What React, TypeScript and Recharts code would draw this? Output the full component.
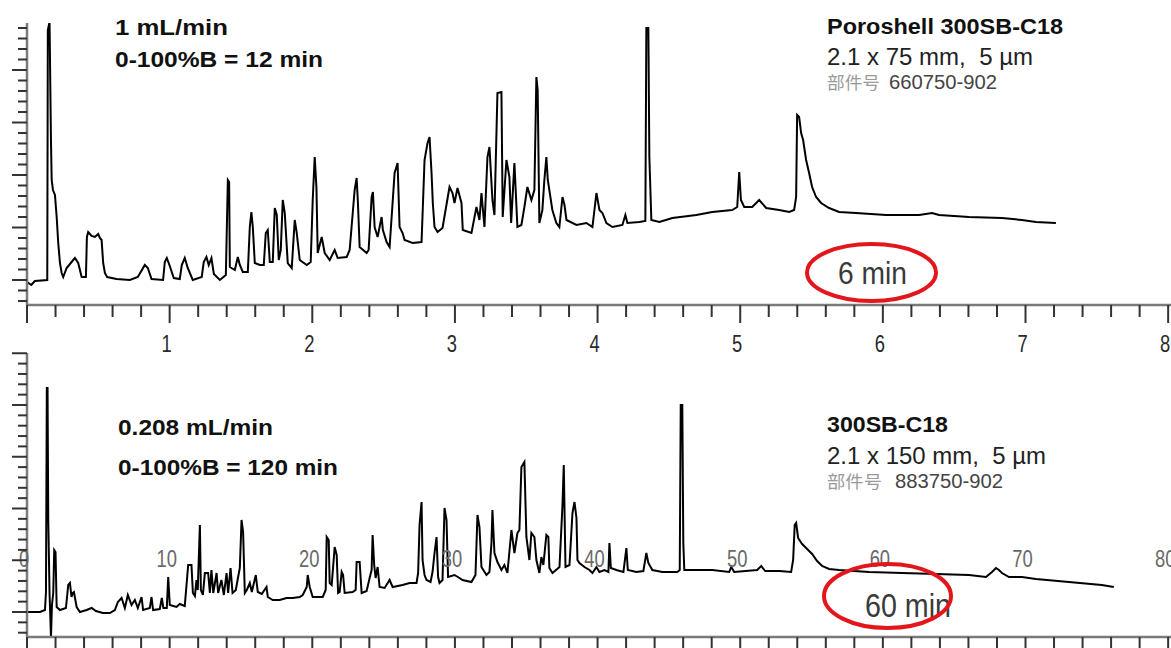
import React from 'react';
import { LineChart, Line, XAxis, YAxis } from 'recharts';

// ---- Top chromatogram: Poroshell 300SB-C18 (time in min, signal in arbitrary units)
const topTrace: [number, number][] = [
  [0, -2], [0.03, -5], [0.055, -1], [0.142, 0], [0.146, 250], [0.158, 258], [0.168, 140], [0.173, 100],
  [0.182, 90], [0.196, 85], [0.208, 63], [0.219, 37], [0.231, 17], [0.243, 7], [0.254, 3], [0.278, 12],
  [0.324, 20], [0.336, 22], [0.359, 17], [0.383, 3], [0.413, 3], [0.42, 43], [0.429, 48], [0.453, 44],
  [0.476, 43], [0.499, 46], [0.511, 42], [0.523, 40], [0.534, 17], [0.546, 7], [0.562, 3], [0.628, 1],
  [0.721, 0], [0.777, 3], [0.826, 15], [0.847, 12], [0.873, 1], [0.954, 0], [0.966, 18], [0.98, 22],
  [1.001, 14], [1.029, 2], [1.071, 1], [1.085, 15], [1.106, 22], [1.127, 12], [1.162, 0], [1.225, 3],
  [1.239, 18], [1.258, 23], [1.274, 15], [1.293, 22], [1.31, 6], [1.352, 0], [1.394, 5], [1.408, 100],
  [1.417, 98], [1.422, 13], [1.457, 10], [1.478, 23], [1.492, 15], [1.513, 8], [1.548, 8], [1.562, 53],
  [1.573, 68], [1.583, 53], [1.597, 17], [1.632, 15], [1.66, 15], [1.674, 47], [1.688, 50], [1.702, 18],
  [1.723, 18], [1.737, 72], [1.751, 65], [1.765, 20], [1.779, 30], [1.793, 80], [1.807, 67], [1.828, 17],
  [1.856, 12], [1.877, 60], [1.891, 47], [1.912, 20], [1.961, 15], [1.989, 18], [2.003, 80], [2.017, 123],
  [2.029, 93], [2.038, 27], [2.066, 43], [2.087, 27], [2.122, 20], [2.157, 30], [2.178, 22], [2.241, 23],
  [2.262, 30], [2.297, 90], [2.311, 102], [2.32, 77], [2.332, 33], [2.381, 27], [2.395, 30], [2.416, 83],
  [2.425, 88], [2.437, 53], [2.458, 43], [2.486, 63], [2.495, 50], [2.521, 38], [2.542, 33], [2.563, 77],
  [2.577, 107], [2.598, 117], [2.612, 53], [2.633, 47], [2.647, 40], [2.703, 37], [2.766, 38], [2.787, 120],
  [2.808, 137], [2.822, 143], [2.836, 107], [2.845, 77], [2.857, 53], [2.878, 48], [2.913, 52], [2.962, 93],
  [2.983, 87], [2.997, 77], [3.018, 92], [3.046, 77], [3.055, 50], [3.116, 47], [3.151, 73], [3.172, 60],
  [3.186, 87], [3.207, 53], [3.228, 123], [3.242, 133], [3.263, 80], [3.277, 65], [3.298, 187], [3.326, 188],
  [3.335, 63], [3.361, 120], [3.382, 103], [3.394, 57], [3.417, 117], [3.438, 53], [3.466, 55], [3.487, 73],
  [3.508, 93], [3.536, 80], [3.557, 90], [3.571, 203], [3.58, 190], [3.592, 57], [3.613, 70], [3.627, 100],
  [3.641, 123], [3.651, 100], [3.683, 70], [3.711, 57], [3.732, 53], [3.754, 83], [3.768, 75], [3.782, 60],
  [3.852, 55], [3.922, 57], [3.964, 53], [3.992, 87], [4.013, 70], [4.034, 67], [4.062, 57], [4.104, 53],
  [4.174, 55], [4.195, 65], [4.209, 57], [4.293, 58], [4.335, 59], [4.342, 252], [4.356, 252], [4.363, 123],
  [4.377, 60], [4.433, 58], [4.524, 62], [4.692, 65], [4.804, 68], [4.944, 70], [4.979, 73], [4.993, 108],
  [5.005, 80], [5.028, 73], [5.084, 73], [5.133, 80], [5.182, 72], [5.273, 70], [5.343, 68], [5.378, 70],
  [5.392, 83], [5.399, 165], [5.413, 163], [5.427, 147], [5.441, 140], [5.462, 120], [5.483, 107], [5.504, 93],
  [5.532, 83], [5.567, 77], [5.623, 72], [5.693, 68], [5.812, 67], [6.022, 65], [6.254, 65], [6.345, 67],
  [6.394, 65], [6.604, 63], [6.835, 62], [6.975, 60], [7.073, 58], [7.213, 57],
];

// ---- Bottom chromatogram: 300SB-C18 (time in min, signal in arbitrary units)
const bottomTrace: [number, number][] = [
  [0, 0], [0.91, 0], [1.26, 2], [1.33, 20], [1.39, 224], [1.44, 224], [1.49, 92], [1.58, 19], [1.68, -25],
  [1.75, 7], [1.84, 19], [1.91, 62], [2.0, 60], [2.08, 5], [2.31, 2], [2.73, 4], [2.89, 27], [3.01, 29],
  [3.12, 15], [3.2, 19], [3.29, 20], [3.48, 5], [3.71, 0], [4.18, 2], [4.53, 4], [4.83, 1], [5.32, -1],
  [5.81, -1], [6.16, 2], [6.37, 10], [6.63, 14], [6.86, 4], [7.07, 17], [7.33, 7], [7.56, 12], [7.77, 4],
  [8.03, 15], [8.14, 2], [8.61, 4], [8.73, 15], [8.84, 2], [9.31, 3], [9.45, 14], [9.56, 4], [9.8, 4],
  [9.9, 35], [10.01, 7], [10.48, 5], [10.71, 8], [11.06, 6], [11.3, 47], [11.53, 47], [11.63, 19], [11.77, 16],
  [11.88, 32], [11.97, 22], [12.12, 87], [12.19, 22], [12.33, 17], [12.47, 39], [12.7, 39], [12.82, 19],
  [12.93, 42], [13.06, 19], [13.29, 39], [13.4, 19], [13.63, 32], [13.8, 17], [13.99, 39], [14.1, 19],
  [14.27, 44], [14.41, 19], [14.64, 22], [14.8, 35], [14.92, 44], [15.04, 92], [15.15, 80], [15.27, 19],
  [15.41, 22], [15.62, 29], [15.76, 20], [16.04, 37], [16.18, 20], [16.46, 18], [16.79, 25], [16.88, 15],
  [17.23, 12], [17.72, 12], [18.19, 14], [18.63, 14], [19.12, 15], [19.33, 17], [19.61, 25], [19.68, 37],
  [19.82, 25], [20.03, 15], [20.73, 15], [20.94, 22], [21.01, 75], [21.15, 72], [21.22, 29], [21.36, 27],
  [21.57, 65], [21.71, 57], [21.81, 19], [21.92, 20], [22.06, 40], [22.16, 37], [22.27, 19], [22.83, 20],
  [23.04, 22], [23.11, 50], [23.32, 50], [23.46, 19], [23.81, 21], [24.02, 34], [24.16, 42], [24.23, 77],
  [24.34, 47], [24.44, 34], [24.58, 45], [24.72, 25], [25.07, 24], [25.42, 32], [25.63, 25], [26.33, 27],
  [26.82, 29], [27.31, 29], [27.42, 39], [27.52, 87], [27.66, 110], [27.73, 52], [27.87, 37], [28.01, 32],
  [28.29, 30], [28.43, 40], [28.57, 59], [28.71, 75], [28.82, 35], [28.92, 29], [29.13, 32], [29.27, 104],
  [29.41, 92], [29.52, 35], [29.97, 37], [30.32, 34], [30.53, 32], [31.16, 30], [31.44, 37], [31.58, 97],
  [31.72, 85], [31.86, 45], [32.21, 37], [32.42, 40], [32.56, 69], [32.63, 102], [32.77, 59], [32.98, 50],
  [33.26, 42], [33.47, 47], [33.68, 39], [33.96, 82], [34.17, 59], [34.38, 79], [34.52, 82], [34.66, 145],
  [34.87, 150], [35.01, 75], [35.22, 52], [35.36, 79], [35.57, 75], [35.71, 52], [35.92, 39], [36.06, 55],
  [36.2, 47], [36.41, 77], [36.55, 75], [36.62, 44], [36.84, 39], [37.33, 45], [37.54, 107], [37.63, 147],
  [37.75, 45], [38.03, 47], [38.24, 99], [38.38, 110], [38.52, 94], [38.59, 52], [38.73, 49], [39.08, 45],
  [39.43, 42], [39.64, 39], [39.92, 45], [40.13, 40], [40.48, 42], [40.76, 40], [40.83, 69], [40.93, 44],
  [41.32, 42], [41.81, 40], [42.02, 64], [42.12, 42], [42.72, 40], [43.21, 41], [43.42, 59], [43.56, 49],
  [43.84, 42], [44.54, 40], [45.59, 40], [45.76, 42], [45.83, 207], [45.94, 207], [46.01, 69], [46.08, 42],
  [47.13, 42], [48.04, 42], [49.23, 40], [49.37, 45], [49.58, 40], [51.19, 42], [51.47, 46], [51.75, 41],
  [52.73, 41], [53.57, 40], [53.71, 52], [53.82, 87], [53.92, 89], [54.06, 74], [54.34, 68], [54.69, 63],
  [55.04, 58], [55.39, 51], [55.74, 46], [56.23, 43], [56.93, 42], [59.04, 40], [61.35, 39], [63.73, 38],
  [66.04, 37], [67.23, 35], [67.65, 40], [67.93, 44], [68.14, 42], [68.35, 39], [68.84, 35], [69.75, 35],
  [70.73, 33], [73.04, 30], [75.35, 27], [76.19, 25],
];

// ---- Axis ticks
const topTimeTicks = [0, 0.2, 0.4, 0.6, 0.8, 1, 1.2, 1.4, 1.6, 1.8, 2, 2.2, 2.4, 2.6, 2.8, 3, 3.2, 3.4, 3.6, 3.8,
  4, 4.2, 4.4, 4.6, 4.8, 5, 5.2, 5.4, 5.6, 5.8, 6, 6.2, 6.4, 6.6, 6.8, 7, 7.2, 7.4, 7.6, 7.8, 8];
const topTimeMajor = [0, 1, 2, 3, 4, 5, 6, 7, 8];
const topTimeLabels = [1, 2, 3, 4, 5, 6, 7, 8];

const bottomTimeTicks = [0, 2, 4, 6, 8, 10, 12, 14, 16, 18, 20, 22, 24, 26, 28, 30, 32, 34, 36, 38, 40,
  42, 44, 46, 48, 50, 52, 54, 56, 58, 60, 62, 64, 66, 68, 70, 72, 74, 76, 78, 80];
const bottomTimeMajor = [0, 10, 20, 30, 40, 50, 60, 70, 80];
const bottomTimeLabels = [0, 10, 20, 30, 40, 50, 60, 70, 80];

const topSignalTicks = [-21, -10.5, 0, 10.5, 21, 31.5, 42, 52.5, 63, 73.5, 84, 94.5, 105, 115.5, 126, 136.5,
  147, 157.5, 168, 178.5, 189, 199.5, 210, 220.5, 231, 241.5, 252];
const topSignalMajor = [0, 52.5, 105, 157.5, 210];

const bottomSignalTicks = [-20.7, -10.35, 0, 10.35, 20.7, 31.05, 41.4, 51.75, 62.1, 72.45, 82.8, 93.15, 103.5,
  113.85, 124.2, 134.55, 144.9, 155.25, 165.6, 175.95, 186.3, 196.65, 207, 217.35, 227.7, 238.05, 248.4, 258.75];
const bottomSignalMajor = [0, 51.75, 103.5, 155.25, 207, 258.75];

const topData = topTrace.map(([t, v]) => ({ t, v }));
const bottomData = bottomTrace.map(([t, v]) => ({ t, v }));

const NARROW = "'Liberation Sans Narrow', 'Arial Narrow', 'Liberation Sans', Arial, sans-serif";
const SANS = "'Liberation Sans', Arial, Helvetica, sans-serif";
const CJK = "'Noto Sans CJK SC', 'Noto Sans', sans-serif";

const near = (a: number, list: number[]) => list.some((b) => Math.abs(a - b) < 1e-6);

const makeXTick = (major: number[], labels: number[], labelDy: number, color: string) => (props: any) => {
  const { x, y, payload } = props;
  const val = payload.value as number;
  const isMajor = near(val, major);
  return (
    <g>
      <line x1={x} x2={x} y1={y} y2={y + (isMajor ? 18 : 12)} stroke="#333" strokeWidth={2} />
      {near(val, labels) && (
        <text
          transform={`translate(${x - 3},${y + labelDy}) scale(0.8,1)`}
          textAnchor="middle"
          fontFamily={NARROW}
          fontSize={23}
          fill={color}
        >
          {val}
        </text>
      )}
    </g>
  );
};

const makeYTick = (major: number[]) => (props: any) => {
  const { x, y, payload } = props;
  const isMajor = near(payload.value as number, major);
  return <line x1={x - (isMajor ? 15 : 9)} x2={x} y1={y} y2={y} stroke="#333" strokeWidth={2} />;
};

const axisLineStyle = { stroke: '#7a7a7a', strokeWidth: 2.5 };

export default function App() {
  return (
    <div style={{ position: 'absolute', left: 0, top: 0, width: 1171, height: 648, overflow: 'hidden', background: '#fff' }}>
      <div style={{ position: 'absolute', left: 0, top: 0 }}>
        <LineChart width={1171} height={362} data={topData} margin={{ top: 23, right: 0, bottom: 0, left: 0 }}>
          <XAxis
            dataKey="t"
            type="number"
            domain={[0, 8.02]}
            allowDataOverflow
            ticks={topTimeTicks}
            interval={0}
            height={57}
            tickSize={0}
            tickMargin={0}
            tickLine={false}
            axisLine={axisLineStyle}
            tick={makeXTick(topTimeMajor, topTimeLabels, 47, '#2a2a2a')}
          />
          <YAxis
            type="number"
            domain={[-25, 257]}
            allowDataOverflow
            ticks={topSignalTicks}
            interval={0}
            width={27}
            tickSize={0}
            tickMargin={0}
            tickLine={false}
            axisLine={axisLineStyle}
            tick={makeYTick(topSignalMajor)}
          />
          <Line dataKey="v" type="linear" stroke="#000" strokeWidth={2} dot={false} isAnimationActive={false} />
        </LineChart>
      </div>
      <div style={{ position: 'absolute', left: 0, top: 352 }}>
        <LineChart width={1171} height={296} data={bottomData} margin={{ top: 1, right: 0, bottom: 0, left: 0 }}>
          <XAxis
            dataKey="t"
            type="number"
            domain={[0, 80.2]}
            allowDataOverflow
            ticks={bottomTimeTicks}
            interval={0}
            height={11}
            tickSize={0}
            tickMargin={0}
            tickLine={false}
            axisLine={axisLineStyle}
            tick={makeXTick(bottomTimeMajor, bottomTimeLabels, -70, '#6a6a6a')}
          />
          <YAxis
            type="number"
            domain={[-25, 259]}
            allowDataOverflow
            ticks={bottomSignalTicks}
            interval={0}
            width={27}
            tickSize={0}
            tickMargin={0}
            tickLine={false}
            axisLine={axisLineStyle}
            tick={makeYTick(bottomSignalMajor)}
          />
          <Line dataKey="v" type="linear" stroke="#000" strokeWidth={2} dot={false} isAnimationActive={false} />
        </LineChart>
      </div>
      <svg width={1171} height={648} style={{ position: 'absolute', left: 0, top: 0, pointerEvents: 'none' }}>
        {/* top panel annotations */}
        <text x={115} y={35} fontFamily={SANS} fontWeight="bold" fontSize={22} fill="#111" textLength={113} lengthAdjust="spacingAndGlyphs">1 mL/min</text>
        <text x={115} y={67} fontFamily={SANS} fontWeight="bold" fontSize={22} fill="#111" textLength={208} lengthAdjust="spacingAndGlyphs">0-100%B = 12 min</text>
        <text x={827} y={34} fontFamily={SANS} fontWeight="bold" fontSize={22} fill="#111" textLength={236} lengthAdjust="spacingAndGlyphs">Poroshell 300SB-C18</text>
        <text x={827} y={65} fontFamily={NARROW} fontSize={23} fill="#222" textLength={206} lengthAdjust="spacingAndGlyphs">{'2.1 x 75 mm,\u00a0\u00a05 µm'}</text>
        <text x={827} y={89} fontFamily={CJK} fontSize={17} fill="#9a9a9a" textLength={53} lengthAdjust="spacingAndGlyphs">部件号</text>
        <text x={889} y={89} fontFamily={NARROW} fontSize={20} fill="#444" textLength={108} lengthAdjust="spacingAndGlyphs">660750-902</text>
        <text x={838} y={284} fontFamily={NARROW} fontSize={31} fill="#3a3a3a" textLength={69} lengthAdjust="spacingAndGlyphs">6 min</text>
        <ellipse cx={871.5} cy={272.5} rx={64.5} ry={28.5} fill="none" stroke="#e3161b" strokeWidth={4} />

        {/* bottom panel annotations */}
        <text x={118} y={435} fontFamily={SANS} fontWeight="bold" fontSize={22} fill="#111" textLength={155} lengthAdjust="spacingAndGlyphs">0.208 mL/min</text>
        <text x={118} y={475} fontFamily={SANS} fontWeight="bold" fontSize={22} fill="#111" textLength={220} lengthAdjust="spacingAndGlyphs">0-100%B = 120 min</text>
        <text x={827} y={432} fontFamily={SANS} fontWeight="bold" fontSize={22} fill="#111" textLength={121} lengthAdjust="spacingAndGlyphs">300SB-C18</text>
        <text x={827} y={464} fontFamily={NARROW} fontSize={23} fill="#222" textLength={219} lengthAdjust="spacingAndGlyphs">{'2.1 x 150 mm,\u00a0\u00a05 µm'}</text>
        <text x={827} y={488} fontFamily={CJK} fontSize={17} fill="#9a9a9a" textLength={55} lengthAdjust="spacingAndGlyphs">部件号</text>
        <text x={895} y={488} fontFamily={NARROW} fontSize={20} fill="#444" textLength={108} lengthAdjust="spacingAndGlyphs">883750-902</text>
        <text x={865} y={617} fontFamily={NARROW} fontSize={34} fill="#3a3a3a" textLength={86} lengthAdjust="spacingAndGlyphs">60 min</text>
        <ellipse cx={887.5} cy={596} rx={63.5} ry={32} fill="none" stroke="#e3161b" strokeWidth={4} />
      </svg>
    </div>
  );
}
